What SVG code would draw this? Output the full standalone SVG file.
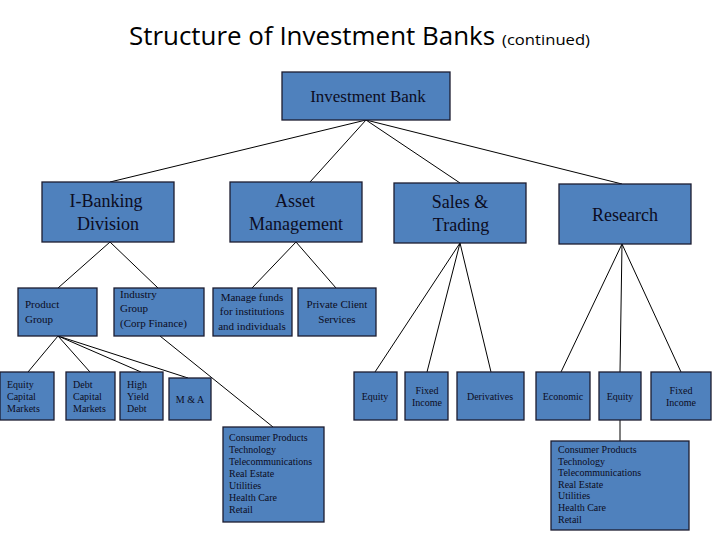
<svg xmlns="http://www.w3.org/2000/svg" width="720" height="540" viewBox="0 0 720 540">
<style>
.b{fill:#4f81bd;stroke:#1c1c30;stroke-width:1.3}
.t{fill:#0c0c22}
.c{text-anchor:middle}
.l18{font-size:18px}
.l17{font-size:17px}
.s11{font-size:11px}
.s10{font-size:10px}
.ln{stroke:#000;stroke-width:1;fill:none}
</style>
<rect width="720" height="540" fill="#fff"/>
<text x="129" y="45" font-family="'Open Sans','Liberation Sans',sans-serif" font-size="26" fill="#000" textLength="366" lengthAdjust="spacingAndGlyphs">Structure of Investment Banks</text>
<text x="502" y="45" font-family="'Open Sans','Liberation Sans',sans-serif" font-size="14" fill="#000" textLength="88" lengthAdjust="spacingAndGlyphs">(continued)</text>
<g id="connectors" class="ln">
<line x1="366" y1="120" x2="110" y2="182"/>
<line x1="366" y1="120" x2="310" y2="182"/>
<line x1="366" y1="120" x2="460" y2="183"/>
<line x1="366" y1="120" x2="622" y2="184"/>
<line x1="110" y1="242" x2="58" y2="288"/>
<line x1="110" y1="242" x2="158" y2="288"/>
<line x1="296" y1="242" x2="252" y2="288"/>
<line x1="296" y1="242" x2="336" y2="288"/>
<line x1="58" y1="336" x2="28" y2="372"/>
<line x1="58" y1="336" x2="90" y2="372"/>
<line x1="58" y1="336" x2="141" y2="372"/>
<line x1="58" y1="336" x2="188" y2="378"/>
<line x1="160" y1="336" x2="273" y2="427"/>
<line x1="460" y1="243" x2="375" y2="372"/>
<line x1="460" y1="243" x2="427" y2="372"/>
<line x1="460" y1="243" x2="491" y2="372"/>
<line x1="622" y1="244" x2="561" y2="372"/>
<line x1="622" y1="244" x2="620" y2="372"/>
<line x1="622" y1="244" x2="681" y2="372"/>
<line x1="620" y1="420" x2="620" y2="441"/>
</g>
<g font-family="Liberation Serif, DejaVu Serif, Times New Roman, serif">
<g id="investment-bank"><rect class="b" x="282" y="72" width="168" height="48"/><text class="t c l17" x="368" y="102">Investment Bank</text></g>
<g id="ibanking"><rect class="b" x="42" y="182" width="132" height="60"/><text class="t c l18" x="106" y="207">I-Banking</text><text class="t c l18" x="108" y="230">Division</text></g>
<g id="asset-mgmt"><rect class="b" x="230" y="182" width="132" height="60"/><text class="t c l18" x="295" y="207">Asset</text><text class="t c l18" x="296" y="230">Management</text></g>
<g id="sales-trading"><rect class="b" x="394" y="183" width="132" height="60"/><text class="t c l18" x="460" y="208">Sales &amp;</text><text class="t c l18" x="461" y="231">Trading</text></g>
<g id="research"><rect class="b" x="559" y="184" width="132" height="60"/><text class="t c l18" x="625" y="221">Research</text></g>
<g id="product-group"><rect class="b" x="18" y="288" width="79" height="48"/><text class="t s11" x="25" y="308">Product</text><text class="t s11" x="25" y="323">Group</text></g>
<g id="industry-group"><rect class="b" x="114" y="288" width="90" height="48"/><text class="t s11" x="120" y="298">Industry</text><text class="t s11" x="120" y="312">Group</text><text class="t s11" x="120" y="327">(Corp Finance)</text></g>
<g id="manage-funds"><rect class="b" x="213" y="288" width="79" height="48"/><text class="t c s11" x="252" y="301">Manage funds</text><text class="t c s11" x="252" y="315">for institutions</text><text class="t c s11" x="252" y="330">and individuals</text></g>
<g id="private-client"><rect class="b" x="298" y="288" width="78" height="48"/><text class="t c s11" x="337" y="308">Private Client</text><text class="t c s11" x="337" y="323">Services</text></g>
<g id="equity-cm"><rect class="b" x="0" y="372" width="54" height="48"/><text class="t s10" x="7" y="388">Equity</text><text class="t s10" x="7" y="400">Capital</text><text class="t s10" x="7" y="412">Markets</text></g>
<g id="debt-cm"><rect class="b" x="66" y="372" width="49" height="48"/><text class="t s10" x="73" y="388">Debt</text><text class="t s10" x="73" y="400">Capital</text><text class="t s10" x="73" y="412">Markets</text></g>
<g id="high-yield"><rect class="b" x="120" y="372" width="43" height="48"/><text class="t s10" x="127" y="388">High</text><text class="t s10" x="127" y="400">Yield</text><text class="t s10" x="127" y="412">Debt</text></g>
<g id="ma"><rect class="b" x="169" y="378" width="42" height="42"/><text class="t c s10" x="190" y="403">M &amp; A</text></g>
<g id="industries-1"><rect class="b" x="223" y="427" width="101" height="95"/>
<text class="t s10" x="229" y="441">Consumer Products</text><text class="t s10" x="229" y="453">Technology</text><text class="t s10" x="229" y="465">Telecommunications</text><text class="t s10" x="229" y="477">Real Estate</text><text class="t s10" x="229" y="489">Utilities</text><text class="t s10" x="229" y="501">Health Care</text><text class="t s10" x="229" y="513">Retail</text></g>
<g id="st-equity"><rect class="b" x="354" y="372" width="43" height="48"/><text class="t c s10" x="375" y="400">Equity</text></g>
<g id="st-fixed"><rect class="b" x="405" y="372" width="43" height="48"/><text class="t c s10" x="427" y="394">Fixed</text><text class="t c s10" x="427" y="406">Income</text></g>
<g id="st-deriv"><rect class="b" x="457" y="372" width="67" height="48"/><text class="t c s10" x="490" y="400">Derivatives</text></g>
<g id="r-economic"><rect class="b" x="536" y="372" width="54" height="48"/><text class="t c s10" x="563" y="400">Economic</text></g>
<g id="r-equity"><rect class="b" x="599" y="372" width="42" height="48"/><text class="t c s10" x="620" y="400">Equity</text></g>
<g id="r-fixed"><rect class="b" x="651" y="372" width="60" height="48"/><text class="t c s10" x="681" y="394">Fixed</text><text class="t c s10" x="681" y="406">Income</text></g>
<g id="industries-2"><rect class="b" x="551" y="441" width="138" height="89"/>
<text class="t s10" x="558" y="453">Consumer Products</text><text class="t s10" x="558" y="465">Technology</text><text class="t s10" x="558" y="476">Telecommunications</text><text class="t s10" x="558" y="488">Real Estate</text><text class="t s10" x="558" y="499">Utilities</text><text class="t s10" x="558" y="511">Health Care</text><text class="t s10" x="558" y="523">Retail</text></g>
</g>
</svg>
